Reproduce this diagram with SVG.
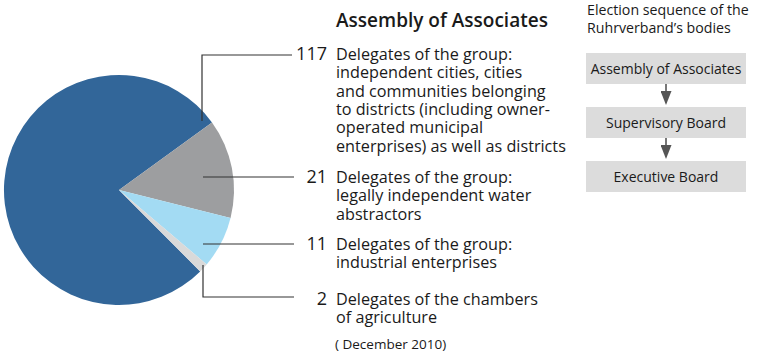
<svg xmlns="http://www.w3.org/2000/svg" width="757" height="353" viewBox="0 0 757 353">
<style>
  text { font-family: "Open Sans", "Noto Sans", "Liberation Sans", sans-serif; fill: #1a1a1a; }
  .title { font-size: 19px; font-weight: 600; }
  .num { font-size: 18px; text-anchor: end; }
  .body { font-size: 16.2px; }
  .small { font-size: 13.5px; }
  .hdr { font-size: 14.2px; }
  .box { fill: #dcdcdc; }
  .boxt { font-size: 14px; text-anchor: middle; }
  .lead { fill: none; stroke: #333; stroke-width: 1.2; }
  .arr { stroke: #555; stroke-width: 1.6; }
</style>
<defs>
  <marker id="ah" markerWidth="14" markerHeight="11" refX="1" refY="5.5" orient="auto" markerUnits="userSpaceOnUse" viewBox="0 0 14 11">
    <path d="M0,0 L14,5.5 L0,11 Z" fill="#555"/>
  </marker>
</defs>

<g id="pie">
  <path d="M119,190 L200.2,271.4 A115,115 0 1,1 212.0,122.4 Z" fill="#326699"/>
  <path d="M119,190 L212.0,122.4 A115,115 0 0,1 230.55,217.96 Z" fill="#9d9ea0"/>
  <path d="M119,190 L230.55,217.96 A115,115 0 0,1 206.7,264.4 Z" fill="#a3dbf3"/>
  <path d="M119,190 L206.7,264.4 A115,115 0 0,1 200.2,271.4 Z" fill="#d9d9d9"/>
</g>

<g id="connectors">
  <polyline class="lead" points="202,121 202,55 292,55"/>
  <line class="lead" x1="203" y1="177" x2="294" y2="177"/>
  <line class="lead" x1="203" y1="244" x2="294" y2="244"/>
  <polyline class="lead" points="203,265 203,297 294,297"/>
  <line class="arr" x1="666" y1="84" x2="666" y2="92" marker-end="url(#ah)"/>
  <line class="arr" x1="666" y1="138" x2="666" y2="146" marker-end="url(#ah)"/>
</g>

<g id="title">
  <text class="title" x="336" y="27">Assembly of Associates</text>
</g>

<g id="group117">
  <text class="num" x="327" y="60">117</text>
  <text class="body" x="336" y="60">Delegates of the group:</text>
  <text class="body" x="336" y="78.3">independent cities, cities</text>
  <text class="body" x="336" y="96.6">and communities belonging</text>
  <text class="body" x="336" y="114.9">to districts (including owner-</text>
  <text class="body" x="336" y="133.2">operated municipal</text>
  <text class="body" x="336" y="151.5">enterprises) as well as districts</text>
</g>

<g id="group21">
  <text class="num" x="327" y="183">21</text>
  <text class="body" x="336" y="183">Delegates of the group:</text>
  <text class="body" x="336" y="201.3">legally independent water</text>
  <text class="body" x="336" y="219.6">abstractors</text>
</g>

<g id="group11">
  <text class="num" x="327" y="250">11</text>
  <text class="body" x="336" y="250">Delegates of the group:</text>
  <text class="body" x="336" y="268.3">industrial enterprises</text>
</g>

<g id="group2">
  <text class="num" x="327" y="305">2</text>
  <text class="body" x="336" y="305">Delegates of the chambers</text>
  <text class="body" x="336" y="323.3">of agriculture</text>
</g>

<g id="date">
  <text class="small" x="335" y="349">( December 2010)</text>
</g>

<g id="header">
  <text class="hdr" x="587" y="15">Election sequence of the</text>
  <text class="hdr" x="587" y="33">Ruhrverband’s bodies</text>
</g>

<g id="box-assembly">
  <rect class="box" x="586" y="53" width="160" height="31"/>
  <text class="boxt" x="666" y="73.5">Assembly of Associates</text>
</g>
<g id="box-supervisory">
  <rect class="box" x="586" y="107" width="160" height="31"/>
  <text class="boxt" x="666" y="127.5">Supervisory Board</text>
</g>
<g id="box-executive">
  <rect class="box" x="586" y="161" width="160" height="31"/>
  <text class="boxt" x="666" y="181.5">Executive Board</text>
</g>
</svg>
